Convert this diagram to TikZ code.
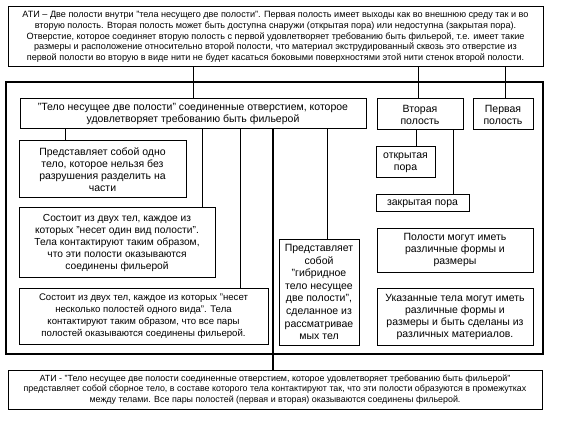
\documentclass[tikz,border=0pt]{standalone}
\usepackage{fontspec}
\setmainfont{Liberation Sans}
\begin{document}
\begin{tikzpicture}[x=1pt,y=-1pt,
  bx/.style={draw=black, line width=1pt, fill=white, inner sep=0pt, align=center,
    font=\fontsize{10.5}{12}\selectfont},
  wide/.style={font=\fontsize{9.1}{10.6}\selectfont},
  widebot/.style={font=\fontsize{8.9}{10.6}\selectfont},
  ln/.style={draw=black, line width=1pt},
  thk/.style={draw=black, line width=2.5pt}]
\useasboundingbox[fill=white] (0,0) rectangle (570,422);
% outer frame
\draw[thk] (6,82) rectangle (543,354);
% nodes
\node[bx, wide, minimum width=535pt, minimum height=60pt] (top) at (275.5,37) {АТИ – Две полости внутри "тела несущего две полости". Первая полость имеет выходы как во внешнюю среду так и во\\вторую полость. Вторая полость может быть доступна снаружи (открытая пора) или недоступна (закрытая пора).\\Отверстие, которое соединяет вторую полость с первой удовлетворяет требованию быть фильерой, т.е. имеет такие\\размеры и расположение относительно второй полости, что материал экструдированный сквозь это отверстие из\\первой полости во вторую в виде нити не будет касаться боковыми поверхностями этой нити стенок второй полости.};
\node[bx, minimum width=346pt, minimum height=30pt] (main) at (193,114) {"Тело несущее две полости" соединенные отверстием, которое\\удовлетворяет требованию быть фильерой};
\node[bx, minimum width=86pt, minimum height=31pt] (second) at (420,114.5) {Вторая\\полость};
\node[bx, minimum width=60pt, minimum height=31pt] (first) at (503,114.5) {Первая\\полость};
\node[bx, minimum width=167pt, minimum height=57pt] (one) at (102.5,169.5) {Представляет собой одно\\тело, которое нельзя без\\разрушения разделить на\\части};
\node[bx, minimum width=196pt, minimum height=69pt, font=\fontsize{10.2}{12}\selectfont] (two) at (117,242.5) {Состоит из двух тел, каждое из\\которых "несет один вид полости".\\Тела контактируют таким образом,\\что эти полости оказываются\\соединены фильерой};
\node[bx, minimum width=249pt, minimum height=56pt, font=\fontsize{9.6}{12}\selectfont] (many) at (143.5,316) {Состоит из двух тел, каждое из которых "несет\\несколько полостей одного вида". Тела\\контактируют таким образом, что все пары\\полостей оказываются соединены фильерой.};
\node[bx, minimum width=80pt, minimum height=106pt, font=\fontsize{10.5}{12.6}\selectfont] (hyb) at (319,292) {Представляет\\собой\\"гибридное\\тело несущее\\две полости",\\сделанное из\\рассматривае\\мых тел};
\node[bx, minimum width=59pt, minimum height=31pt] (open) at (405.5,162.5) {открытая\\пора};
\node[bx, minimum width=93pt, minimum height=17pt] (closed) at (422.5,203.5) {закрытая пора};
\node[bx, minimum width=156pt, minimum height=44pt] (forms) at (455,250) {Полости могут иметь\\различные формы и\\размеры};
\node[bx, minimum width=156pt, minimum height=57pt] (bodies) at (455,316.5) {Указанные тела могут иметь\\различные формы и\\размеры и быть сделаны из\\различных материалов.};
\node[bx, widebot, minimum width=534pt, minimum height=39pt] (bot) at (275,389.5) {АТИ - "Тело несущее две полости соединенные отверстием, которое удовлетворяет требованию быть фильерой"\\представляет собой сборное тело, в составе которого тела контактируют так, что эти полости образуются в промежутках\\между телами. Все пары полостей (первая и вторая) оказываются соединены фильерой.};
% connectors
\draw[ln] (top.south -| 193,0) -- (main.north -| 193,0);
\draw[ln] (top.south -| 418,0) -- (second.north -| 418,0);
\draw[ln] (top.south -| 505,0) -- (first.north -| 505,0);
\draw[ln] (main.south -| 65,0) -- (one.north -| 65,0);
\draw[ln] (main.south -| 202,0) -- (two.north -| 202,0);
\draw[ln] (main.south -| 240,0) -- (many.north -| 240,0);
\draw[ln] (main.south -| 327,0) -- (hyb.north -| 327,0);
\draw[thk] (main.south -| 273,0) -- (bot.north -| 273,0);
\draw[ln] (second.south -| 416,0) -- (open.north -| 416,0);
\draw[ln] (second.south -| 453,0) -- (closed.north -| 453,0);
\end{tikzpicture}
\end{document}
